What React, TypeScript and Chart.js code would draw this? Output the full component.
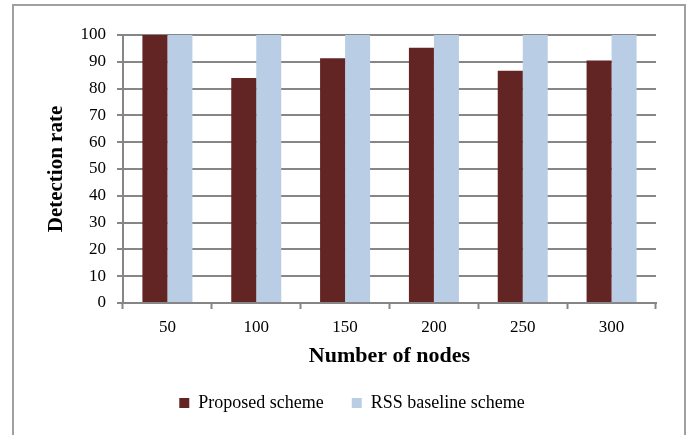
import React, { useEffect, useRef } from "react";
import { Chart, registerables } from "chart.js";

Chart.register(...registerables);

const categories = ["50", "100", "150", "200", "250", "300"];
const proposedScheme = [100, 84, 91.3, 95.2, 86.7, 90.5];
const rssBaseline = [100, 100, 100, 100, 100, 100];
const seriesNames = ["Proposed scheme", "RSS baseline scheme"];
const yTitle = "Detection rate";
const xTitle = "Number of nodes";

const FONT = "'Liberation Serif', 'Times New Roman', serif";
const GRID = "#868686";

export default function App() {
  const ref = useRef<HTMLCanvasElement>(null);
  useEffect(() => {
    if (!ref.current) return;
    const chart = new Chart(ref.current, {
      type: "bar",
      data: {
        labels: categories,
        datasets: [
          {
            label: seriesNames[0],
            data: proposedScheme,
            backgroundColor: "#632523",
            categoryPercentage: 0.563,
            barPercentage: 1,
          },
          {
            label: seriesNames[1],
            data: rssBaseline,
            backgroundColor: "#b9cde5",
            categoryPercentage: 0.563,
            barPercentage: 1,
          },
        ],
      },
      options: {
        animation: false,
        responsive: true,
        maintainAspectRatio: false,
        layout: { padding: { left: 48, right: 36, top: 35, bottom: 13 } },
        plugins: {
          tooltip: { enabled: false },
          legend: {
            position: "bottom",
            labels: {
              boxWidth: 10,
              boxHeight: 10,
              padding: 28,
              color: "#000",
              font: { family: FONT, size: 18 },
            },
          },
        },
        scales: {
          x: {
            afterFit: (s: any) => {
              s.height = 63;
            },
            grid: {
              drawOnChartArea: false,
              drawTicks: true,
              tickLength: 6,
              tickColor: GRID,
              tickWidth: 2,
              offset: true,
            },
            border: { color: GRID, width: 2 },
            ticks: {
              color: "#000",
              padding: 8,
              font: { family: FONT, size: 17 },
            },
            title: {
              display: true,
              text: xTitle,
              color: "#000",
              font: { family: FONT, size: 22, weight: "bold" },
              padding: { top: 0, bottom: -4 },
            },
          },
          y: {
            min: 0,
            max: 100,
            afterFit: (s: any) => {
              s.width = 75;
            },
            grid: {
              color: GRID,
              lineWidth: 2,
              tickLength: 6,
              tickColor: GRID,
              tickWidth: 2,
            },
            border: { color: GRID, width: 2 },
            ticks: {
              stepSize: 10,
              color: "#000",
              padding: 11,
              font: { family: FONT, size: 17 },
            },
            title: {
              display: true,
              text: yTitle,
              color: "#000",
              font: { family: FONT, size: 21, weight: "bold" },
              padding: { top: -4, bottom: 0 },
            },
          },
        },
      },
    });
    return () => chart.destroy();
  }, []);
  return (
    <div style={{ position: "absolute", left: 0, top: 0, width: 692, height: 435, background: "#fff", overflow: "hidden" }}>
      <div
        style={{
          position: "absolute",
          left: 12,
          top: 4,
          width: 674,
          height: 450,
          border: "2px solid #a0a0a0",
          boxSizing: "border-box",
        }}
      />
      <div style={{ position: "absolute", left: 0, top: 0, width: 692, height: 435 }}>
        <canvas ref={ref} />
      </div>
    </div>
  );
}
